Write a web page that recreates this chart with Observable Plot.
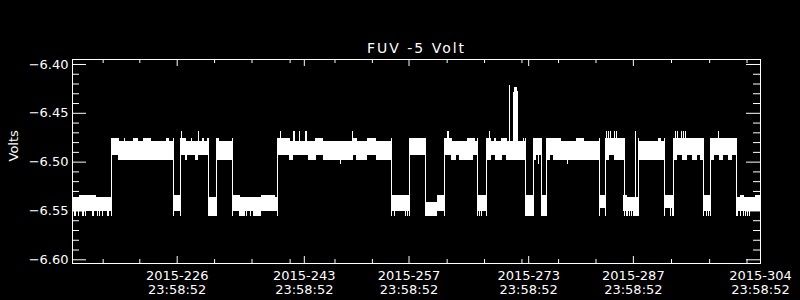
<!DOCTYPE html>
<html><head><meta charset="utf-8">
<script src="https://cdn.jsdelivr.net/npm/d3@7"></script>
<script src="https://cdn.jsdelivr.net/npm/@observablehq/plot@0.6"></script>
<style>html,body{margin:0;padding:0;background:#000;overflow:hidden}#chart{width:800px;height:300px}</style>
</head><body><div id="chart"></div>
<script>
// ---- data (time = day-of-year 2015 + fraction of day; values in Volts) ----
const title = "FUV -5 Volt";
const yLabel = "Volts";
const xDomain = [212.9992, 304.9992];
const yDomain = [-6.6038, -6.3949];

const xMajor = [226.9992, 243.9992, 257.9992, 273.9992, 287.9992, 304.9992];
const xLabelDay = ["2015-226", "2015-243", "2015-257", "2015-273", "2015-287", "2015-304"];
const xLabelTime = ["23:58:52", "23:58:52", "23:58:52", "23:58:52", "23:58:52", "23:58:52"];
const xMinor = [217.1, 222.0, 232.0, 237.0, 242.1, 248.1, 253.1, 263.1, 268.1, 273.1, 278.0, 283.0, 293.1, 298.2, 303.2];
const yMajor = [-6.60, -6.55, -6.50, -6.45, -6.40];
const yMinor = [-6.59, -6.58, -6.57, -6.56, -6.54, -6.53, -6.52, -6.51, -6.49, -6.48, -6.47, -6.46, -6.44, -6.43, -6.42, -6.41];

// state segments: edges, band upper and lower values
const segEdges = [213.00, 218.26, 226.55, 227.44, 231.25, 232.32, 234.46, 240.45, 255.59, 258.11, 260.14, 261.77, 262.79,
  267.19, 268.39, 273.64, 274.69, 275.78, 276.43, 283.43, 284.32, 286.75, 288.65, 292.13, 293.40, 297.34, 298.36, 301.75, 305.00];
const segUpper = [-6.5361, -6.4787, -6.5341, -6.4787, -6.5361, -6.4787, -6.5361, -6.4787, -6.5341, -6.4756, -6.5409, -6.5341,
  -6.4787, -6.5341, -6.4787, -6.5341, -6.4756, -6.5341, -6.4787, -6.5341, -6.4756, -6.5361, -6.4787, -6.5341, -6.4756, -6.5341, -6.4756, -6.5361];
const segLower = [-6.5505, -6.4930, -6.5505, -6.4930, -6.5556, -6.4982, -6.5505, -6.4930, -6.5505, -6.4930, -6.5556, -6.5505,
  -6.4930, -6.5505, -6.4930, -6.5556, -6.4930, -6.5556, -6.4930, -6.5471, -6.4930, -6.5505, -6.4982, -6.5471, -6.4930, -6.5502, -6.4930, -6.5505];

// band levels
const hiTop = -6.4787, hiBumpTop = -6.4756, hiCoreBot = -6.4930, hiExtBot = -6.4982, hiDipBot = -6.5026;
const loBumpTop = -6.5341, loTop = -6.5361, loBot = -6.5505, loDipBot = -6.5556;
const spikeTop = -6.4684;

// where the high band reaches down to hiExtBot
const hiExtStart = [219.19, 228.11, 229.45, 242.02, 244.56, 246.57, 250.98, 253.65, 263.68, 264.79, 268.41, 269.57, 271.00, 274.69,
  276.43, 277.28, 284.32, 285.48, 293.40, 294.58, 295.91, 296.98, 298.36, 299.48, 300.73];
const hiExtEnd = [226.55, 228.34, 229.89, 242.55, 245.67, 250.54, 252.45, 255.59, 264.35, 266.59, 269.07, 270.46, 273.64, 275.01,
  276.92, 283.43, 284.81, 286.75, 293.91, 295.24, 296.58, 297.34, 298.85, 300.06, 301.26];
// where the high band reaches up to hiBumpTop
const hiBumpStart = [218.31, 219.99, 221.16, 222.53, 225.57, 227.44, 228.91, 230.34, 231.01, 232.32, 240.45, 245.46, 250.44, 252.45,
  262.79, 265.82, 268.41, 269.43, 270.33, 273.31, 276.43, 280.44, 291.37];
const hiBumpEnd = [219.29, 220.13, 221.83, 223.52, 225.93, 228.21, 229.09, 230.69, 231.25, 232.66, 242.11, 246.57, 251.11, 253.65,
  263.82, 266.93, 269.07, 269.66, 271.21, 273.45, 278.35, 281.47, 291.77];
// single high samples
const spikeT = [227.51, 229.85, 240.86, 242.49, 242.75, 243.29, 244.10, 244.30, 250.48, 263.08, 263.28, 268.70, 284.41, 284.68,
  284.88, 285.41, 285.68, 293.57, 293.84, 294.37, 294.64, 294.91, 299.32];
const hiDipT = [248.87, 275.36, 279.24];
const glitchT = [288.33];
// large excursion near day 272
const bigSpikeT = [271.48];
const bigSpikeV = [-6.4213];
const bigBlockStart = [272.01, 272.11, 272.47];
const bigBlockEnd = [272.11, 272.47, 272.60];
const bigBlockV = [-6.4291, -6.4233, -6.4275];

// low band excursions
const loBumpStart = [213.94, 234.46, 238.32, 286.72, 302.33, 304.35];
const loBumpEnd = [216.21, 235.44, 240.11, 287.26, 302.87, 304.99];
const loExtStart = [235.33, 236.23, 236.76, 237.21, 288.06];
const loExtEnd = [236.10, 236.44, 236.98, 238.32, 288.65];
const loDipT = [213.27, 213.40, 213.84, 214.29, 214.43, 214.74, 215.71, 215.85, 216.38, 216.61, 217.05, 217.64, 217.85,
  256.10, 257.57, 257.80, 267.45, 267.68, 287.09, 287.26, 287.53, 287.71, 292.97, 293.20, 297.78, 298.01,
  301.89, 302.33, 302.77, 302.99, 303.27, 303.49];

// ---- build ----
const W = 800, H = 300, ML = 72, MR = 40, MT = 59, MB = 37;
const innerW = W - ML - MR, innerH = H - MT - MB;
const segments = segUpper.map((u, i) => ({x1: segEdges[i], x2: segEdges[i + 1], y1: u, y2: segLower[i]}));
const isHigh = v => v > -6.51;
const transitions = segEdges.slice(1, -1).filter((e, i) => isHigh(segUpper[i]) !== isHigh(segUpper[i + 1]));
const iv = (s, e) => s.map((v, i) => ({x1: v, x2: e[i]}));
const bigBlocks = bigBlockStart.map((v, i) => ({x1: v, x2: bigBlockEnd[i], y: bigBlockV[i]}));
const fmt = d3.format(".2f");
const FONT = "DejaVu Sans";
const R = {fill: "white", shapeRendering: "crispEdges"};

const plot = Plot.plot({
  width: W, height: H,
  marginLeft: ML, marginRight: MR, marginTop: MT, marginBottom: MB,
  style: {background: "black", color: "white", fontFamily: FONT},
  x: {domain: xDomain, axis: null},
  y: {domain: yDomain, axis: null},
  marks: [
    Plot.rect(segments, {x1: "x1", x2: "x2", y1: "y1", y2: "y2", ...R}),
    // excursions overlap the core band so no seams appear
    Plot.rect(iv(hiExtStart, hiExtEnd), {x1: "x1", x2: "x2", y1: hiTop, y2: hiExtBot, ...R}),
    Plot.rect(iv(hiBumpStart, hiBumpEnd), {x1: "x1", x2: "x2", y1: hiBumpTop, y2: hiCoreBot, ...R}),
    Plot.rect(iv(loBumpStart, loBumpEnd), {x1: "x1", x2: "x2", y1: loBumpTop, y2: loBot, ...R}),
    Plot.rect(iv(loExtStart, loExtEnd), {x1: "x1", x2: "x2", y1: loTop, y2: loDipBot, ...R}),
    Plot.rect(bigBlocks, {x1: "x1", x2: "x2", y1: hiCoreBot, y2: "y", ...R}),
    Plot.ruleX(transitions, {x: d => d, y1: hiBumpTop, y2: loDipBot, stroke: "white", shapeRendering: "crispEdges"}),
    Plot.ruleX(spikeT, {x: d => d, y1: hiCoreBot, y2: spikeTop, stroke: "white", shapeRendering: "crispEdges"}),
    Plot.ruleX(glitchT, {x: d => d, y1: loDipBot, y2: spikeTop, stroke: "white", shapeRendering: "crispEdges"}),
    Plot.ruleX(hiDipT, {x: d => d, y1: hiTop, y2: hiDipBot, stroke: "white", shapeRendering: "crispEdges"}),
    Plot.ruleX(loDipT, {x: d => d, y1: loTop, y2: loDipBot, stroke: "white", shapeRendering: "crispEdges"}),
    Plot.ruleX(bigSpikeT, {x: d => d, y1: hiCoreBot, y2: (d, i) => bigSpikeV[i], stroke: "white", shapeRendering: "crispEdges"}),
    // axes ticks (inward, all four sides)
    Plot.tickY(yMajor, {y: d => d, stroke: "white", insetRight: innerW - 14}),
    Plot.tickY(yMajor, {y: d => d, stroke: "white", insetLeft: innerW - 14}),
    Plot.tickY(yMinor, {y: d => d, stroke: "white", insetRight: innerW - 7}),
    Plot.tickY(yMinor, {y: d => d, stroke: "white", insetLeft: innerW - 7}),
    Plot.tickX(xMajor, {x: d => d, stroke: "white", insetTop: innerH - 7}),
    Plot.tickX(xMajor, {x: d => d, stroke: "white", insetBottom: innerH - 7}),
    Plot.tickX(xMinor, {x: d => d, stroke: "white", insetTop: innerH - 4}),
    Plot.tickX(xMinor, {x: d => d, stroke: "white", insetBottom: innerH - 4}),
    Plot.frame({stroke: "white"}),
    // labels
    Plot.text(yMajor, {y: d => d, text: d => fmt(d), frameAnchor: "left", textAnchor: "end", dx: -4, fill: "white", fontSize: 13}),
    Plot.text(xMajor, {x: d => d, text: (d, i) => xLabelDay[i] + "\n" + xLabelTime[i], frameAnchor: "bottom",
      lineAnchor: "top", dy: 6, lineHeight: 1.1, fill: "white", fontSize: 13}),
    Plot.text([yLabel], {text: d => d, frameAnchor: "left", rotate: -90, dx: -59, fill: "white", fontSize: 13}),
    Plot.text([title], {text: d => d, frameAnchor: "top", lineAnchor: "bottom", dy: -7, fill: "white", fontSize: 14})
  ]
});
plot.querySelectorAll("text").forEach(t => { if (t.textContent === title) t.style.letterSpacing = "2px"; });
document.getElementById("chart").appendChild(plot);
</script></body></html>
